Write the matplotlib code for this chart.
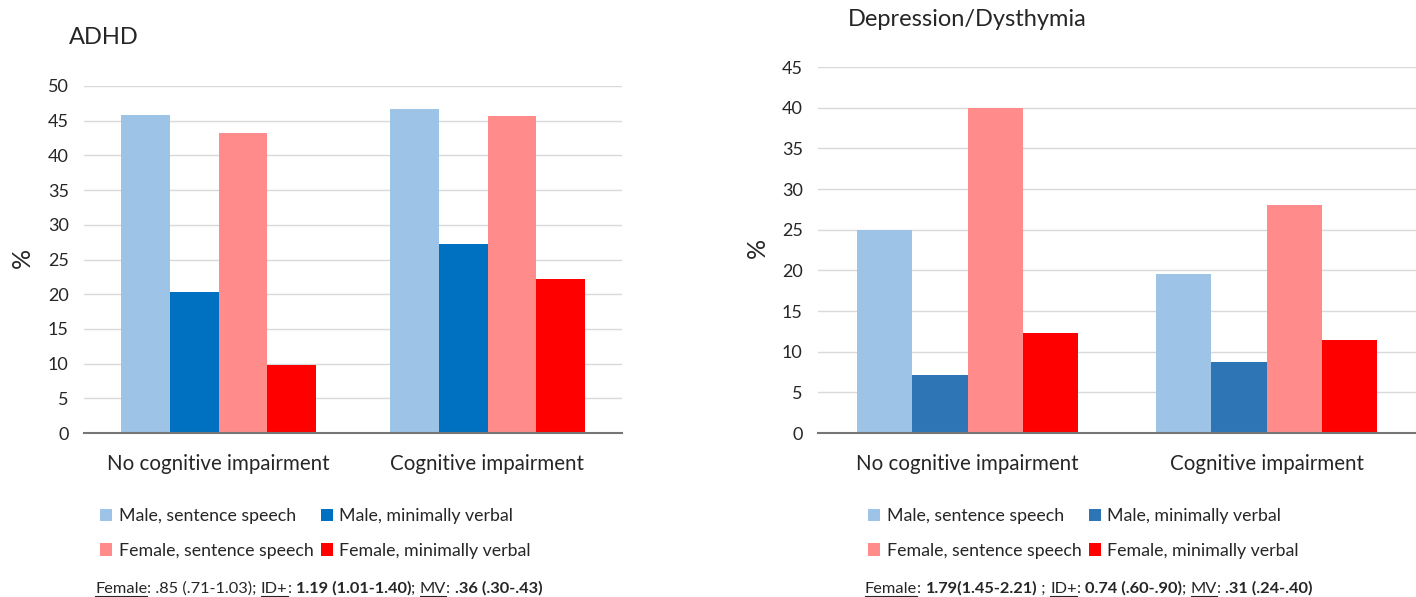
import numpy as np
import matplotlib.pyplot as plt
from matplotlib.patches import Patch
from matplotlib.lines import Line2D

plt.rcParams["font.family"] = ["Lato", "DejaVu Sans"]

categories = ["No cognitive impairment", "Cognitive impairment"]
series = ["Male, sentence speech", "Male, minimally verbal",
          "Female, sentence speech", "Female, minimally verbal"]

# prevalence (%) per series, [no CI, CI]
adhd_male_ss = [45.8, 46.7]
adhd_male_mv = [20.3, 27.2]
adhd_female_ss = [43.2, 45.7]
adhd_female_mv = [9.8, 22.2]

dep_male_ss = [25.0, 19.5]
dep_male_mv = [7.1, 8.7]
dep_female_ss = [40.0, 28.0]
dep_female_mv = [12.3, 11.4]

adhd_colors = ["#9DC3E6", "#0070C0", "#FF8B8B", "#FF0000"]
dep_colors = ["#9DC3E6", "#2E75B6", "#FF8B8B", "#FF0000"]

adhd_note = [("Female", "u"), (": .85 (.71-1.03); ", "n"), ("ID+", "u"), (": ", "n"),
             ("1.19 (1.01-1.40)", "b"), ("; ", "n"), ("MV", "u"), (": ", "n"),
             (".36 (.30-.43)", "b")]
dep_note = [("Female", "u"), (": ", "n"), ("1.79(1.45-2.21)", "b"), (" ; ", "n"),
            ("ID+", "u"), (": ", "n"), ("0.74 (.60-.90)", "b"), ("; ", "n"),
            ("MV", "u"), (": ", "n"), (".31 (.24-.40)", "b")]

W, H = 1416, 597
fig = plt.figure(figsize=(W / 100, H / 100), dpi=100)


def draw_panel(rect, data, colors, ymax, group_w):
    ax = fig.add_axes(rect)
    x = np.arange(len(categories))
    bw = group_w / 4
    for i, vals in enumerate(data):
        ax.bar(x + (i - 1.5) * bw, vals, bw, color=colors[i], linewidth=0, zorder=3)
    ax.set_xlim(-0.5, 1.5)
    ax.set_ylim(0, ymax)
    ax.set_yticks(np.arange(0, ymax + 1, 5))
    ax.set_xticks(x)
    ax.set_xticklabels(categories, fontsize=14.8, color="#262626")
    ax.tick_params(axis="y", length=0, pad=11, labelsize=13, labelcolor="#262626")
    ax.tick_params(axis="x", length=0, pad=15)
    ax.grid(axis="y", color="#D9D9D9", linewidth=1, zorder=0)
    for s in ["top", "right", "left"]:
        ax.spines[s].set_visible(False)
    ax.spines["bottom"].set_color("#767676")
    ax.spines["bottom"].set_linewidth(1.5)
    ax.spines["bottom"].set_zorder(4)
    return ax


def draw_legend(ax, colors, x, y, colspace):
    order = [0, 2, 1, 3]
    handles = [Patch(facecolor=colors[i], label=series[i]) for i in order]
    fig.legend(handles=handles, ncol=2, loc="upper left",
               bbox_to_anchor=(x / W, 1 - y / H), frameon=False,
               fontsize=12.8, handlelength=0.7, handleheight=0.7,
               handletextpad=0.35, columnspacing=colspace, labelspacing=1.05,
               borderpad=0, borderaxespad=0, labelcolor="#262626")


def draw_note(pieces, x, y):
    r = fig.canvas.get_renderer()
    xpos = x / W
    for txt, style in pieces:
        t = fig.text(xpos, 1 - y / H, txt, fontsize=11.8, va="baseline",
                     fontweight="bold" if style == "b" else "normal", color="#262626")
        bb = t.get_window_extent(renderer=r)
        if style == "u":
            fig.add_artist(Line2D([bb.x0 / W, bb.x1 / W],
                                  [1 - (y + 2.5) / H] * 2,
                                  color="#262626", linewidth=0.8))
        xpos = bb.x1 / W


ax1 = draw_panel([84 / W, 1 - 433 / H, 538 / W, 347 / H],
                 [adhd_male_ss, adhd_male_mv, adhd_female_ss, adhd_female_mv],
                 adhd_colors, 50, 0.725)
ax2 = draw_panel([818 / W, 1 - 433 / H, 598 / W, 366 / H],
                 [dep_male_ss, dep_male_mv, dep_female_ss, dep_female_mv],
                 dep_colors, 45, 0.736)

fig.text(69 / W, 1 - 38 / H, "ADHD", fontsize=17, va="center", color="#262626")
fig.text(848 / W, 1 - 20 / H, "Depression/Dysthymia", fontsize=17, va="center", color="#262626")
fig.text(22 / W, 1 - 258 / H, "%", fontsize=18, rotation=90, ha="center", va="center", color="#262626")
fig.text(757 / W, 1 - 248 / H, "%", fontsize=18, rotation=90, ha="center", va="center", color="#262626")

draw_legend(ax1, adhd_colors, 100, 508, 0.4)
draw_legend(ax2, dep_colors, 868, 508, 0.4)

draw_note(adhd_note, 95, 593)
draw_note(dep_note, 865, 593)

fig.savefig("out.png", dpi=100)
